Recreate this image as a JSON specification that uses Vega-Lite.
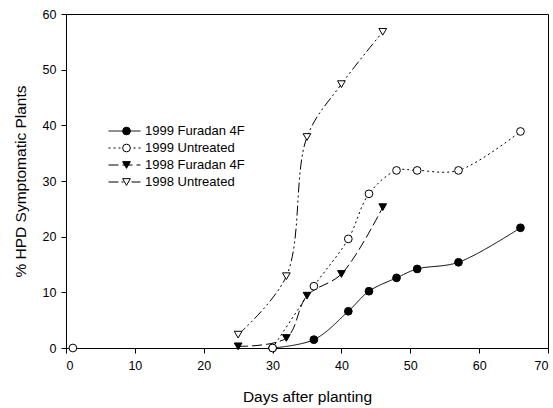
{
  "$schema": "https://vega.github.io/schema/vega-lite/v6.json",
  "width": 482,
  "height": 334,
  "autosize": {"type": "none"},
  "padding": {"left": 66, "top": 14, "right": 5, "bottom": 60},
  "background": "white",
  "config": {
    "view": {"stroke": "black", "strokeWidth": 1},
    "font": "Liberation Sans",
    "axis": {
      "domainColor": "black", "tickColor": "black", "labelColor": "black", "titleColor": "black",
      "grid": false, "labelFont": "Liberation Sans", "titleFont": "Liberation Sans",
      "labelFontSize": 12.5, "titleFontSize": 15.5, "titleFontWeight": "normal",
      "tickSize": 5, "domainWidth": 1, "tickWidth": 1
    },
    "legend": {
      "labelFont": "Liberation Sans", "labelFontSize": 13, "labelColor": "black",
      "padding": 0, "rowPadding": 3, "clipHeight": 13
    }
  },
  "data": {
    "values": [
      {"series": "1999 Furadan 4F", "day": 30, "pct": 0},
      {"series": "1999 Furadan 4F", "day": 36, "pct": 1.5},
      {"series": "1999 Furadan 4F", "day": 41, "pct": 6.6},
      {"series": "1999 Furadan 4F", "day": 44, "pct": 10.2},
      {"series": "1999 Furadan 4F", "day": 48, "pct": 12.6},
      {"series": "1999 Furadan 4F", "day": 51, "pct": 14.2},
      {"series": "1999 Furadan 4F", "day": 57, "pct": 15.4},
      {"series": "1999 Furadan 4F", "day": 66, "pct": 21.6},
      {"series": "1999 Untreated", "day": 1, "pct": 0},
      {"series": "1999 Untreated", "day": 30, "pct": 0},
      {"series": "1999 Untreated", "day": 36, "pct": 11.1},
      {"series": "1999 Untreated", "day": 41, "pct": 19.6},
      {"series": "1999 Untreated", "day": 44, "pct": 27.7},
      {"series": "1999 Untreated", "day": 48, "pct": 31.9},
      {"series": "1999 Untreated", "day": 51, "pct": 31.9},
      {"series": "1999 Untreated", "day": 57, "pct": 31.9},
      {"series": "1999 Untreated", "day": 66, "pct": 38.9},
      {"series": "1998 Furadan 4F", "day": 25, "pct": 0.3},
      {"series": "1998 Furadan 4F", "day": 32, "pct": 1.8},
      {"series": "1998 Furadan 4F", "day": 35, "pct": 9.4},
      {"series": "1998 Furadan 4F", "day": 40, "pct": 13.3},
      {"series": "1998 Furadan 4F", "day": 46, "pct": 25.3},
      {"series": "1998 Untreated", "day": 25, "pct": 2.4},
      {"series": "1998 Untreated", "day": 32, "pct": 12.9},
      {"series": "1998 Untreated", "day": 35, "pct": 37.9},
      {"series": "1998 Untreated", "day": 40, "pct": 47.4},
      {"series": "1998 Untreated", "day": 46, "pct": 56.8}
    ]
  },
  "encoding": {
    "x": {
      "field": "day", "type": "quantitative",
      "scale": {"domain": [0, 70], "nice": false, "zero": false},
      "axis": {"title": "Days after planting", "values": [0, 10, 20, 30, 40, 50, 60, 70], "labelPadding": 6, "titlePadding": 18}
    },
    "y": {
      "field": "pct", "type": "quantitative",
      "scale": {"domain": [0, 60], "nice": false},
      "axis": {"title": "% HPD Symptomatic Plants", "values": [0, 10, 20, 30, 40, 50, 60], "labelPadding": 5, "titlePadding": 14}
    }
  },
  "layer": [
    {
      "transform": [{"filter": "datum.day > 1"}],
      "mark": {"type": "line", "interpolate": "catmull-rom", "color": "black", "strokeWidth": 1},
      "encoding": {
        "strokeDash": {
          "field": "series", "type": "nominal",
          "sort": ["1999 Furadan 4F", "1999 Untreated", "1998 Furadan 4F", "1998 Untreated"],
          "scale": {"range": [[1, 0], [2, 3], [10, 4], [10, 3, 2, 3, 2, 3]]},
          "legend": {
            "title": null, "orient": "none", "legendX": 42, "legendY": 110.5,
            "symbolType": "stroke", "symbolSize": 1024, "symbolStrokeColor": "black",
            "symbolStrokeWidth": 1, "labelExpr": "''", "rowPadding": 3
          }
        }
      }
    },
    {
      "mark": {"type": "point", "filled": true, "stroke": "black", "strokeWidth": 1, "size": 60, "opacity": 1},
      "encoding": {
        "shape": {
          "field": "series", "type": "nominal",
          "scale": {
            "domain": ["1999 Furadan 4F", "1999 Untreated", "1998 Furadan 4F", "1998 Untreated"],
            "range": ["circle", "circle", "triangle-down", "triangle-down"]
          },
          "legend": {
            "title": null, "orient": "none", "legendX": 54, "legendY": 110.5,
            "symbolSize": 60, "symbolStrokeColor": "black", "symbolStrokeWidth": 1,
            "symbolOpacity": 1, "labelOffset": 12, "rowPadding": 3,
            "encode": {"symbols": {"update": {"stroke": {"value": "black"}, "strokeWidth": {"value": 1}}}}
          }
        },
        "fill": {
          "field": "series", "type": "nominal",
          "scale": {
            "domain": ["1999 Furadan 4F", "1999 Untreated", "1998 Furadan 4F", "1998 Untreated"],
            "range": ["black", "white", "black", "white"]
          },
          "legend": {
            "title": null, "orient": "none", "legendX": 54, "legendY": 110.5,
            "symbolSize": 60, "symbolStrokeColor": "black", "symbolStrokeWidth": 1,
            "symbolOpacity": 1, "labelOffset": 12, "rowPadding": 3,
            "encode": {"symbols": {"update": {"stroke": {"value": "black"}, "strokeWidth": {"value": 1}}}}
          }
        }
      }
    }
  ]
}
